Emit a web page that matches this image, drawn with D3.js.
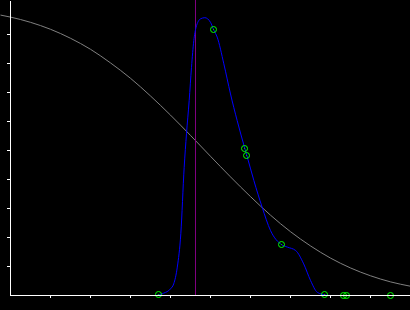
<!DOCTYPE html>
<html>
<head>
<meta charset="utf-8">
<script src="https://cdn.jsdelivr.net/npm/d3@7"></script>
<style>
  html, body { margin: 0; padding: 0; background: #000; overflow: hidden; }
  svg { display: block; }
</style>
</head>
<body>
<div id="graph"></div>
<script>
// Data
const xTicks = [1, 2, 3, 4, 5, 6, 7, 8, 9];
const yTicks = [0.1, 0.2, 0.3, 0.4, 0.5, 0.6, 0.7, 0.8, 0.9];

// Gray falling curve
const grayX = [-0.25, 0, 0.5, 1, 1.5, 2, 2.5, 3, 3.5, 4, 4.5, 5, 5.5, 6, 6.5, 7, 7.5, 8, 8.5, 9, 9.5, 10];
const grayY = [0.967, 0.960, 0.942, 0.918, 0.887, 0.849, 0.802, 0.749, 0.688, 0.622, 0.552, 0.480, 0.409, 0.341, 0.277, 0.220, 0.171, 0.129, 0.095, 0.068, 0.047, 0.032];

// Blue density curve
const blueX = [0, 3.6, 3.71, 3.83, 4.0, 4.08, 4.17, 4.258, 4.342, 4.4, 4.467, 4.525, 4.583, 4.64, 4.75, 4.858, 5.0, 5.08, 5.167, 5.333, 5.5, 5.667, 5.86, 5.91, 6.083, 6.29, 6.5, 6.78, 6.92, 7.13, 7.33, 7.5, 7.67, 7.86, 8.0, 10];
const blueY = [0, 0, 0.002, 0.008, 0.023, 0.040, 0.098, 0.213, 0.442, 0.558, 0.672, 0.787, 0.879, 0.925, 0.954, 0.958, 0.942, 0.916, 0.891, 0.799, 0.695, 0.603, 0.506, 0.482, 0.397, 0.305, 0.224, 0.175, 0.167, 0.155, 0.109, 0.052, 0.011, 0.002, 0, 0];

// Sample points (green circles)
const pointX = [3.71, 5.08, 5.86, 5.91, 6.78, 7.86, 8.32, 8.4, 9.51];
const pointY = [0.002, 0.916, 0.506, 0.482, 0.175, 0.002, 0, 0, 0];

// Vertical marker
const markerX = 4.625;

function createGraph() {
    const width = 410;
    const height = 310;

    const svg = d3.select("#graph")
        .append("svg")
        .attr("width", width)
        .attr("height", height)
        .style("background", "#000");

    const g = svg.append("g")
        .attr("transform", "translate(0.5,0.5)");

    // Scales
    const xScale = d3.scaleLinear()
        .domain([0, 10])
        .range([10, 410]);

    const yScale = d3.scaleLinear()
        .domain([0, 1])
        .range([295, 5]);

    // y axis line runs up to the top edge
    const yAxisScale = yScale.copy()
        .domain([0, yScale.invert(0)])
        .range([295, 0]);

    const line = d3.line()
        .x(d => xScale(d[0]))
        .y(d => yScale(d[1]))
        .curve(d3.curveMonotoneX);

    // Gray curve
    g.append("path")
        .datum(d3.zip(grayX, grayY))
        .attr("fill", "none")
        .attr("stroke", "#808080")
        .attr("stroke-width", 1)
        .attr("d", line);

    // Purple marker line
    g.append("line")
        .attr("x1", Math.floor(xScale(markerX)))
        .attr("x2", Math.floor(xScale(markerX)))
        .attr("y1", -1)
        .attr("y2", yScale(0))
        .attr("stroke", "#800080")
        .attr("shape-rendering", "crispEdges");

    // Axes
    const xAxis = d3.axisBottom(xScale)
        .tickValues(xTicks)
        .tickSize(3)
        .tickSizeOuter(0)
        .tickFormat("");

    const yAxis = d3.axisLeft(yAxisScale)
        .tickValues(yTicks)
        .tickSize(3)
        .tickSizeOuter(0)
        .tickFormat("");

    const xg = svg.append("g")
        .attr("transform", `translate(0,${yScale(0)})`)
        .call(xAxis);

    const yg = svg.append("g")
        .attr("transform", `translate(${xScale(0)},0)`)
        .call(yAxis);

    [xg, yg].forEach(a => {
        a.selectAll("path, line")
            .attr("stroke", "#fff")
            .attr("shape-rendering", "crispEdges");
    });

    // Blue density curve
    g.append("path")
        .datum(d3.zip(blueX, blueY))
        .attr("fill", "none")
        .attr("stroke", "#0000ff")
        .attr("stroke-width", 1)
        .attr("d", line);

    // Green points
    const pts = g.selectAll(".pt")
        .data(d3.zip(pointX, pointY))
        .enter()
        .append("g")
        .attr("transform", d => `translate(${Math.round(xScale(d[0]))},${Math.round(yScale(d[1]))})`);

    pts.append("circle")
        .attr("r", 3)
        .attr("fill", "none")
        .attr("stroke", "#00ff00")
        .attr("stroke-width", 1);

    pts.append("rect")
        .attr("x", -0.5)
        .attr("y", -0.5)
        .attr("width", 1)
        .attr("height", 1)
        .attr("fill", "#00cc00");
}

createGraph();
</script>
</body>
</html>
